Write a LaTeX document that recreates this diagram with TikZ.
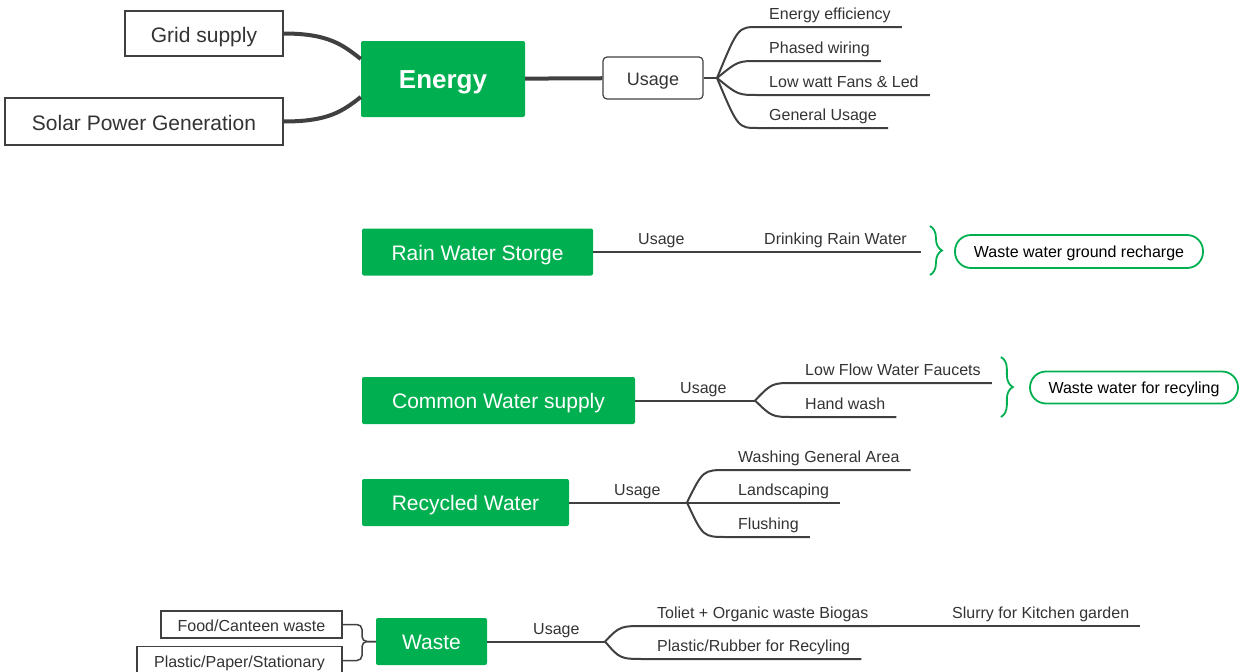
\documentclass[tikz,border=0pt]{standalone}
\usepackage{fontspec}
\setmainfont{Liberation Sans}
\usetikzlibrary{positioning,calc,decorations.pathreplacing}
\definecolor{mmgreen}{HTML}{00B050}
\definecolor{mmline}{HTML}{404040}
\definecolor{mmtext}{HTML}{333333}
\tikzset{
    every node/.style={font=\fontsize{16}{19}\selectfont, text=mmtext},
    greenbox/.style={fill=mmgreen, rounded corners=2pt, text=white, font=\fontsize{21}{25}\selectfont, minimum height=47pt, inner sep=0pt, text height=16pt, text depth=0pt},
    whitebox/.style={draw=mmline, line width=1.5pt, fill=white, font=\fontsize{21}{25}\selectfont, inner sep=0pt, text height=17pt, text depth=0pt},
    smallbox/.style={draw=mmline, line width=1.5pt, fill=white, inner sep=0pt, text height=13pt, text depth=0pt},
    usagebox/.style={draw=mmline, line width=1.2pt, rounded corners=4pt, font=\fontsize{18}{22}\selectfont, minimum width=100pt, minimum height=42pt, text height=14pt, text depth=0pt},
    leaf/.style={anchor=south west, inner xsep=11pt, inner ysep=2.5pt, text height=12pt, text depth=4.5pt},
    pill/.style={draw=mmgreen, line width=1.8pt, rounded corners=16pt, text=black, inner sep=0pt, minimum height=33pt, text height=12pt, text depth=0pt},
    thickline/.style={draw=mmline, line width=4pt},
    branch/.style={draw=mmline, line width=2pt},
    thinline/.style={draw=mmline, line width=1.5pt, rounded corners=5pt},
    greenbrace/.style={draw=mmgreen, line width=1.8pt, decorate, decoration={brace, amplitude=12pt}},
}

\begin{document}
\begin{tikzpicture}[x=1pt, y=-1pt]
\useasboundingbox (0,0) rectangle (1240,672);

% Energy
\node[greenbox, minimum width=164pt, minimum height=76pt, font=\fontsize{26}{30}\selectfont\bfseries, text height=19pt] (energy) at (443,79) {Energy};
\node[whitebox, minimum width=158pt, minimum height=45pt] (grid) at (204,33.5) {Grid supply};
\node[whitebox, minimum width=278pt, minimum height=47pt] (solar) at (144,121.5) {Solar Power Generation};
\node[usagebox] (en-use) at (653,78) {Usage};
\coordinate (en-ju) at (717,78);

\draw[thickline] (grid.east) .. controls +(45,0) and +(-18,-14) .. ([yshift=20pt]energy.west);
\draw[thickline] (solar.east) .. controls +(45,0) and +(-18,14) .. ([yshift=-18pt]energy.west);
\draw[thickline] (energy) -- (en-use);
\draw[branch] (en-use) -- (en-ju);

\foreach \i/\yy/\txt in {1/27/Energy efficiency, 2/61/Phased wiring, 3/95/Low watt Fans \& Led, 4/128/General Usage}{
  \node[leaf] (en-\i) at (758,\yy) {\txt};
  \draw[branch] (en-ju) .. controls ([xshift=-20pt]en-\i.south west) .. (en-\i.south west) -- (en-\i.south east);
}

% Rain water
\node[greenbox, minimum width=231pt] (rain) at (477.5,252) {Rain Water Storge};
\node[leaf] (rain-use) at (627,252) {Usage};
\node[leaf] (rain-drink) at (753,252) {Drinking Rain Water};
\draw[branch] (rain.east) -- (rain-use.south west) -- ([xshift=3pt]rain-drink.south east);
\draw[greenbrace] ($(rain-drink.south east)+(12,-26)$) -- ($(rain-drink.south east)+(12,23)$);
\node[pill, minimum width=248pt] (rain-out) at (1079,251.5) {Waste water ground recharge};

% Common water
\node[greenbox, minimum width=273pt] (cws) at (498.5,400.5) {Common Water supply};
\node[leaf] (cws-use) at (669,400.5) {Usage};
\coordinate (cws-ju) at (755,400.5);
\draw[branch] (cws.east) -- (cws-ju);
\foreach \i/\yy/\txt in {1/383/Low Flow Water Faucets, 2/417/Hand wash}{
  \node[leaf] (cws-\i) at (794,\yy) {\txt};
  \draw[branch] (cws-ju) .. controls ([xshift=-22pt]cws-\i.south west) .. (cws-\i.south west) -- (cws-\i.south east);
}
\draw[greenbrace] ($(cws-1.south east)+(9,-26)$) -- ($(cws-1.south east)+(9,34)$);
\node[pill, minimum width=208pt, minimum height=32pt] (cws-out) at (1134,387.5) {Waste water for recyling};

% Recycled water
\node[greenbox, minimum width=207pt] (rcw) at (465.5,502.5) {Recycled Water};
\node[leaf] (rcw-use) at (603,502.5) {Usage};
\coordinate (rcw-ju) at (687,502.5);
\draw[branch] (rcw.east) -- (rcw-ju);
\foreach \i/\yy/\txt in {1/470/Washing General Area, 2/502.5/Landscaping, 3/537/Flushing}{
  \node[leaf] (rcw-\i) at (727,\yy) {\txt};
  \draw[branch] (rcw-ju) .. controls ([xshift=-24pt]rcw-\i.south west) .. (rcw-\i.south west) -- (rcw-\i.south east);
}

% Waste
\node[greenbox, minimum width=111pt] (waste) at (431.5,641.5) {Waste};
\node[leaf] (ws-use) at (522,641.5) {Usage};
\coordinate (ws-ju) at (605,641.5);
\draw[branch] (waste.east) -- (ws-ju);
\foreach \i/\yy/\txt in {1/626/{Toliet + Organic waste Biogas}, 2/659/{Plastic/Rubber for Recyling}}{
  \node[leaf] (ws-\i) at (646,\yy) {\txt};
  \draw[branch] (ws-ju) .. controls ([xshift=-26pt]ws-\i.south west) .. (ws-\i.south west) -- (ws-\i.south east);
}
\node[leaf] (ws-slurry) at (941,626) {Slurry for Kitchen garden};
\draw[branch] (ws-1.south west) -- (ws-slurry.south east);

\node[smallbox, minimum width=181pt, minimum height=27pt] (food) at (251.5,624.5) {Food/Canteen waste};
\node[smallbox, minimum width=205pt, minimum height=28pt] (paper) at (239.5,660.5) {Plastic/Paper/Stationary};
\coordinate (ws-in) at (362,641.5);
\draw[thinline] (food.east) -| (ws-in) -- (waste.west);
\draw[thinline] (paper.east) -| (ws-in) -- (waste.west);

\end{tikzpicture}
\end{document}
